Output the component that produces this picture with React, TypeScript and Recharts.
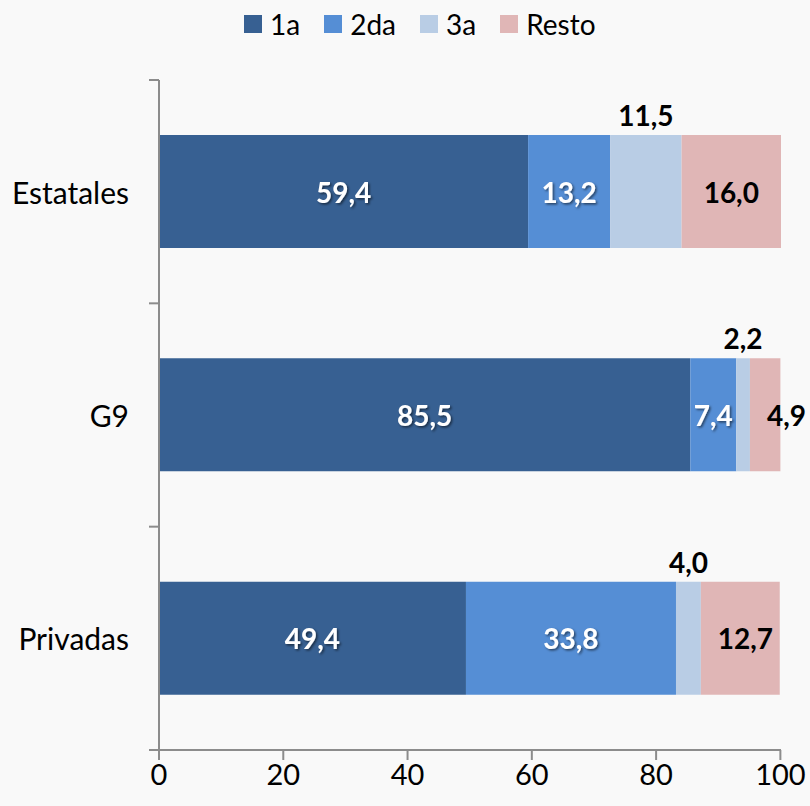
import React from 'react'
import { BarChart, Bar, XAxis, YAxis, LabelList } from 'recharts'

const categories = ['Estatales', 'G9', 'Privadas']
const primera = [59.4, 85.5, 49.4]
const segunda = [13.2, 7.4, 33.8]
const tercera = [11.5, 2.2, 4.0]
const resto = [16.0, 4.9, 12.7]
const seriesNames = ['1a', '2da', '3a', 'Resto']
const xTicks = [0, 20, 40, 60, 80, 100]

const COLORS = ['#376092', '#558ED5', '#B9CDE5', '#E0B6B6']
const FONT = 'Lato, "Liberation Sans", sans-serif'
const AXIS = '#8C8C8C'
const TICK_GAP = 30

const rows = categories.map((name, i) => ({
  name,
  s0: primera[i],
  s1: segunda[i],
  s2: tercera[i],
  s3: resto[i],
}))

const fmt = (v: number) => v.toFixed(1).replace('.', ',')

function whiteLabel(p: any) {
  const { x, y, width, height, value } = p
  return (
    <text x={x + width / 2} y={y + height / 2} textAnchor='middle' dominantBaseline='central'
      fill='#fff' fontSize={28} fontWeight={700} fontFamily={FONT} filter='url(#txtShadow)'>
      {fmt(value)}
    </text>
  )
}

function aboveLabel(p: any) {
  const { x, y, width, value } = p
  return (
    <text x={x + width / 2} y={y - 20} textAnchor='middle' dominantBaseline='central'
      fill='#000' fontSize={28} fontWeight={700} fontFamily={FONT}>
      {fmt(value)}
    </text>
  )
}

function restoLabel(p: any) {
  const { x, y, width, height, value } = p
  const s = fmt(value)
  const w = (s.length - 1) * 16 + 7
  const cx = Math.max(x + width / 2, x + 17 + w / 2)
  return (
    <text x={cx} y={y + height / 2} textAnchor='middle' dominantBaseline='central'
      fill='#000' fontSize={28} fontWeight={700} fontFamily={FONT}>
      {s}
    </text>
  )
}

// category label plus Excel-style tick marks on the band edges
function catTick(p: any) {
  const { x, y, payload, index, visibleTicksCount } = p
  const half = payload.offset || 0
  const ax = x + TICK_GAP
  const last = index === visibleTicksCount - 1
  return (
    <g>
      <line x1={ax - 10} x2={ax} y1={y - half} y2={y - half} stroke={AXIS} strokeWidth={2} />
      {last && <line x1={ax - 10} x2={ax} y1={y + half} y2={y + half} stroke={AXIS} strokeWidth={2} />}
      <text x={x} y={y} textAnchor='end' dominantBaseline='central' fill='#000' fontSize={30} fontFamily={FONT}>
        {payload.value}
      </text>
    </g>
  )
}

export default function App() {
  return (
    <div style={{ position: 'absolute', left: 0, top: 0, width: 810, height: 806, background: '#F9F9F9', fontFamily: FONT }}>
      <svg width={0} height={0} style={{ position: 'absolute' }}>
        <defs>
          <filter id='txtShadow' x='-20%' y='-20%' width='140%' height='140%'>
            <feDropShadow dx='1.5' dy='1.5' stdDeviation='1' floodColor='#000' floodOpacity='0.55' />
          </filter>
        </defs>
      </svg>

      <div style={{ position: 'absolute', left: 244, top: 0, height: 48, display: 'flex', alignItems: 'center' }}>
        {seriesNames.map((n, i) => (
          <div key={n} style={{ display: 'flex', alignItems: 'center', marginRight: 24 }}>
            <span style={{ width: 18, height: 18, background: COLORS[i], display: 'inline-block', marginRight: 8 }} />
            <span style={{ fontSize: 28, color: '#000', lineHeight: '30px' }}>{n}</span>
          </div>
        ))}
      </div>

      <BarChart width={810} height={806} data={rows} layout='vertical' barSize={113}
        margin={{ top: 80, right: 29, bottom: 0, left: 0 }} style={{ position: 'absolute', left: 0, top: 0 }}>
        <XAxis type='number' domain={[0, 100]} ticks={xTicks} height={56} tickSize={10} tickMargin={4}
          stroke={AXIS} strokeWidth={2} tick={{ fill: '#000', fontSize: 29, fontFamily: FONT }} interval={0} />
        <YAxis type='category' dataKey='name' width={159} stroke={AXIS} strokeWidth={2} tickLine={false}
          tickSize={0} tickMargin={TICK_GAP} tick={catTick} interval={0} />
        <Bar dataKey='s0' name={seriesNames[0]} stackId='a' fill={COLORS[0]} isAnimationActive={false}>
          <LabelList dataKey='s0' content={whiteLabel} />
        </Bar>
        <Bar dataKey='s1' name={seriesNames[1]} stackId='a' fill={COLORS[1]} isAnimationActive={false}>
          <LabelList dataKey='s1' content={whiteLabel} />
        </Bar>
        <Bar dataKey='s2' name={seriesNames[2]} stackId='a' fill={COLORS[2]} isAnimationActive={false}>
          <LabelList dataKey='s2' content={aboveLabel} />
        </Bar>
        <Bar dataKey='s3' name={seriesNames[3]} stackId='a' fill={COLORS[3]} isAnimationActive={false}>
          <LabelList dataKey='s3' content={restoLabel} />
        </Bar>
      </BarChart>
    </div>
  )
}
